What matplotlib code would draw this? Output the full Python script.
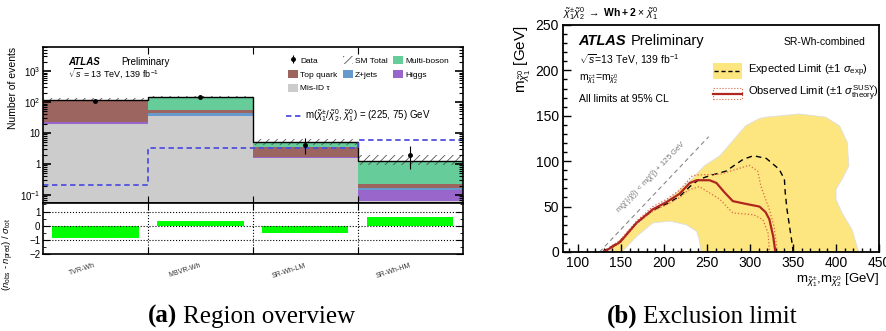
import numpy as np
import matplotlib
matplotlib.use('Agg')
import matplotlib.pyplot as plt
from matplotlib.patches import Patch, Rectangle, Polygon
from matplotlib.lines import Line2D
from matplotlib.ticker import MultipleLocator, FixedLocator

plt.rcParams['font.family'] = ['Liberation Sans', 'DejaVu Sans']
plt.rcParams['mathtext.fontset'] = 'custom'
plt.rcParams['mathtext.rm'] = 'Liberation Sans'
plt.rcParams['mathtext.it'] = 'Liberation Sans:italic'
plt.rcParams['mathtext.bf'] = 'Liberation Sans:bold'
plt.rcParams['hatch.linewidth'] = 0.6

# ---- left panel: region overview ----
regions = ['TVR-Wh', 'MBVR-Wh', 'SR-Wh-LM', 'SR-Wh-HM']
misid = [20, 35, 1.55, 0.065]
higgs = [2, 0.5, 0.1, 0.075]
zjets = [0.5, 9, 0.05, 0.03]
topq = [97, 11, 1.8, 0.05]
multib = [0.5, 88, 1.8, 1.05]
sm_lo = [110, 133, 4.2, 0.95]
sm_hi = [131, 155, 6.4, 1.97]
data = [108, 148, 4, 2]
data_dn = [10, 12, 1.9, 1.3]
data_up = [10, 12, 3.0, 1.8]
signal = [0.21, 3.2, 3.4, 5.8]
pull = [-0.88, 0.33, -0.55, 0.58]

# ---- right panel: exclusion limit ----
band_x = [135, 158, 185, 209, 232, 247, 265, 295, 311, 319, 357, 388, 404, 413, 415, 407,
          400, 400, 407, 419, 425, 427, 243, 241, 238, 226, 207, 187, 168, 151]
band_y = [0, 21, 45, 61, 80, 95, 106, 139, 147, 148.5, 152, 148.5, 139, 121, 95, 80,
          69, 58, 43, 24, 4, 0, 0, 13, 22.6, 30, 34, 32, 17, 0]
exp_x = [128, 148, 168, 187, 203, 218, 230, 241, 253, 272, 292, 304, 319, 334, 340, 341, 343, 346, 349.5, 350]
exp_y = [0, 11, 32, 46, 53, 61, 72, 80, 84, 89, 102, 106, 103, 91, 80, 65, 47, 28, 6, 0]
obs_x = [130, 149, 168, 187, 203, 218, 230, 238, 253, 261, 270, 280, 295, 311, 318, 322.5, 327, 329.5]
obs_y = [0, 11, 32, 47, 55, 64, 76, 79, 79, 76, 66, 56, 53, 50, 44, 36, 17, 0]
obsup_x = [130, 149, 168, 187, 203, 218, 233, 241, 265, 284, 299, 309, 312.6, 322.5, 328, 331, 332]
obsup_y = [1, 13, 34, 50, 58, 68, 84, 85, 85.5, 91, 95.5, 89, 72.6, 46.7, 28, 6, 0]
obsdn_x = [130, 149, 168, 187, 203, 218, 228, 241, 265, 280, 304, 315, 321, 322.5, 323]
obsdn_y = [0, 10, 31, 45, 52, 60, 68, 72, 58, 43, 41, 35.6, 20.7, 2, 0]
kin_x = [125, 252]
kin_y = [0, 127]

c_top = '#9c6560'
c_z = '#6699cc'
c_mb = '#66cc99'
c_h = '#9966cc'
c_mis = '#cccccc'
c_sig = '#5050e0'

fig = plt.figure(figsize=(8.86, 3.31), dpi=100)
ax = fig.add_axes([0.0485, 0.3867, 0.474, 0.471])
axr = fig.add_axes([0.0485, 0.2326, 0.474, 0.1541], sharex=ax)

edges = np.arange(len(regions) + 1)
x = np.arange(len(regions))
ymin = 0.055
bottom = np.full(len(regions), ymin)
handles = {}
for vals, col, lab in [(misid, c_mis, 'Mis-ID τ'), (higgs, c_h, 'Higgs'), (zjets, c_z, 'Z+jets'),
                       (topq, c_top, 'Top quark'), (multib, c_mb, 'Multi-boson')]:
    v = np.array(vals)
    if lab == 'Mis-ID τ':
        v = v - ymin
    ax.bar(x, v, width=1, bottom=bottom, align='edge', color=col, linewidth=0)
    handles[lab] = Patch(facecolor=col)
    bottom = bottom + v
total = bottom
ax.bar(x, np.array(sm_hi) - np.array(sm_lo), width=1, bottom=sm_lo, align='edge',
       fill=False, hatch='////', edgecolor='#555555', linewidth=0)
ax.stairs(total, edges, baseline=None, color='black', lw=1.0)
ax.stairs(signal, edges, baseline=None, color=c_sig, lw=1.3, ls=(0, (3, 2)))
eb = ax.errorbar(x + 0.5, data, yerr=[data_dn, data_up], fmt='o', color='black', ms=2.5, lw=0.8, capsize=0)

ax.set_yscale('log')
ax.set_ylim(ymin, 6000)
ax.set_xlim(0, len(regions))
ax.yaxis.set_major_locator(FixedLocator([0.1, 1, 10, 100, 1000]))
ax.set_yticklabels([r'$10^{-1}$', '1', '10', r'$10^{2}$', r'$10^{3}$'])
ax.tick_params(axis='y', which='major', direction='in', length=6, width=1.2, labelsize=7, right=True, pad=2)
ax.tick_params(axis='y', which='minor', direction='in', length=3, width=0.8, right=True)
ax.tick_params(axis='x', direction='in', length=5, top=True, labelbottom=False)
ax.set_xticks(edges[1:-1])
ax.set_ylabel('Number of events', fontsize=7.5, loc='top', labelpad=1)
for s in ax.spines.values():
    s.set_linewidth(1.2)

ax.text(0.06, 0.905, 'ATLAS', transform=ax.transAxes, fontsize=7, weight='bold', style='italic', va='center')
ax.text(0.187, 0.905, 'Preliminary', transform=ax.transAxes, fontsize=7, va='center')
ax.text(0.06, 0.835, r'$\sqrt{s}$ = 13 TeV, 139 fb$^{-1}$', transform=ax.transAxes, fontsize=6.5, va='center')

sm_handle = Patch(facecolor='white', hatch='////', edgecolor='#555555', linewidth=0)
leg_h = [eb, handles['Top quark'], handles['Mis-ID τ'], sm_handle, handles['Z+jets'],
         handles['Multi-boson'], handles['Higgs']]
leg_l = ['Data', 'Top quark', 'Mis-ID τ', 'SM Total', 'Z+jets', 'Multi-boson', 'Higgs']
leg = ax.legend(leg_h, leg_l, ncol=3, loc='upper left', bbox_to_anchor=(0.575, 0.965), frameon=False,
                fontsize=6, handlelength=1.2, handleheight=1.1, handletextpad=0.3, columnspacing=0.6,
                labelspacing=0.6, borderaxespad=0)
ax.add_artist(leg)
sig_h = Line2D([], [], color=c_sig, lw=1.3, ls=(0, (3, 2)))
ax.legend([sig_h], [r'm($\tilde{\chi}^{\pm}_{1}$/$\tilde{\chi}^{0}_{2}$, $\tilde{\chi}^{0}_{1}$) = (225, 75) GeV'],
          loc='upper left', bbox_to_anchor=(0.57, 0.64), frameon=False, fontsize=7,
          handlelength=1.6, handletextpad=0.3, borderaxespad=0)

# ratio
axr.bar(x + 0.5, pull, width=0.82, color='#00ff00', linewidth=0)
axr.set_ylim(-2, 1.6)
for yv in [-1, 0, 1]:
    axr.axhline(yv, color='black', ls=':', lw=0.8)
for xv in edges[1:-1]:
    axr.axvline(xv, color='black', ls=':', lw=0.8)
axr.yaxis.set_major_locator(MultipleLocator(1))
axr.yaxis.set_minor_locator(MultipleLocator(0.5))
axr.tick_params(axis='y', which='major', direction='in', length=5, labelsize=7, right=True, pad=2)
axr.tick_params(axis='y', which='minor', direction='in', length=2.5, right=True)
axr.tick_params(axis='x', direction='in', length=5, top=True)
axr.set_xticks(edges[1:-1])
axr.set_xticklabels([])
for i, r in enumerate(regions):
    axr.text(i + 0.5, -0.22, r, transform=axr.get_xaxis_transform(), fontsize=5, rotation=18,
             ha='right', va='center', rotation_mode='anchor', color='#333333')
axr.set_ylabel(r'$(n_{\rm obs}$ - $n_{\rm pred})$ / $\sigma_{\rm tot}$', fontsize=6.8, labelpad=2)
axr.yaxis.set_label_coords(-0.065, -0.02)
axr.yaxis.label.set_va('bottom')
for s in axr.spines.values():
    s.set_linewidth(1.2)

# ---- right panel ----
ax2 = fig.add_axes([0.6354, 0.2387, 0.3567, 0.686])
ax2.add_patch(Polygon(np.column_stack([band_x, band_y]), closed=True, facecolor='#fde680',
                      edgecolor='#dedede', lw=0.6))
ax2.plot(kin_x, kin_y, color='#888888', ls=(0, (4, 3)), lw=0.8)
ax2.plot(exp_x, exp_y, color='black', ls=(0, (4, 3)), lw=1.0)
ax2.plot(obsup_x, obsup_y, color='#dd6644', ls=':', lw=0.9)
ax2.plot(obsdn_x, obsdn_y, color='#dd6644', ls=':', lw=0.9)
ax2.plot(obs_x, obs_y, color='#b0261e', lw=1.6)
ax2.set_xlim(82.5, 450)
ax2.set_ylim(0, 250)
ax2.xaxis.set_major_locator(MultipleLocator(50))
ax2.xaxis.set_minor_locator(MultipleLocator(10))
ax2.yaxis.set_major_locator(MultipleLocator(50))
ax2.yaxis.set_minor_locator(MultipleLocator(10))
ax2.tick_params(which='major', direction='in', length=6, width=1, labelsize=10, pad=3)
ax2.tick_params(which='minor', direction='in', length=3, width=1)
for s in ax2.spines.values():
    s.set_linewidth(1.3)
ax2.set_ylabel(r'm$_{\tilde{\chi}^{0}_{1}}$ [GeV]', fontsize=11, loc='top', labelpad=2)
ax2.set_xlabel(r'm$_{\tilde{\chi}^{\pm}_{1}}$,m$_{\tilde{\chi}^{0}_{2}}$ [GeV]', fontsize=9.5, loc='right', labelpad=1)

ax2.text(186, 82, r'm($\tilde{\chi}^{\pm}_{1}$/$\tilde{\chi}^{0}_{2}$) < m($\tilde{\chi}^{0}_{1}$) + 125 GeV',
         fontsize=5.5, color='#777777', rotation=46, ha='center', va='center', rotation_mode='anchor')

ax2.text(0.05, 0.93, 'ATLAS', transform=ax2.transAxes, fontsize=10.5, weight='bold', style='italic', va='center')
ax2.text(0.215, 0.93, 'Preliminary', transform=ax2.transAxes, fontsize=10.5, va='center')
ax2.text(0.05, 0.848, r'$\sqrt{s}$=13 TeV, 139 fb$^{-1}$', transform=ax2.transAxes, fontsize=7.5, va='center')
ax2.text(0.05, 0.76, r'm$_{\tilde{\chi}^{\pm}_{1}}$=m$_{\tilde{\chi}^{0}_{2}}$', transform=ax2.transAxes, fontsize=7.5, va='center')
ax2.text(0.05, 0.675, 'All limits at 95% CL', transform=ax2.transAxes, fontsize=7.5, va='center')
ax2.text(0.958, 0.926, 'SR-Wh-combined', transform=ax2.transAxes, fontsize=7.5, ha='right', va='center')

ax2.add_patch(Rectangle((0.475, 0.762), 0.091, 0.071, transform=ax2.transAxes, facecolor='#fde680', edgecolor='none'))
ax2.plot([0.478, 0.563], [0.797, 0.797], transform=ax2.transAxes, color='black', ls=(0, (3, 2)), lw=1.0)
ax2.text(0.585, 0.797, r'Expected Limit ($\pm$1 $\sigma_{\rm exp}$)', transform=ax2.transAxes, fontsize=8, va='center')
ax2.add_patch(Rectangle((0.475, 0.672), 0.091, 0.05, transform=ax2.transAxes, facecolor='none',
                        edgecolor='#dd6644', ls=':', lw=0.8))
ax2.plot([0.475, 0.566], [0.697, 0.697], transform=ax2.transAxes, color='#b0261e', lw=1.6)
ax2.text(0.585, 0.697, r'Observed Limit ($\pm$1 $\sigma^{\rm SUSY}_{\rm theory}$)', transform=ax2.transAxes, fontsize=8, va='center')

ax2.text(0.0, 1.015, r'$\tilde{\chi}^{\pm}_{1}\tilde{\chi}^{0}_{2}$ $\rightarrow$ $\mathbf{Wh + 2}$ $\times$ $\tilde{\chi}^{0}_{1}$',
         transform=ax2.transAxes, fontsize=7.5, va='bottom')

# captions
cap_y = 1 - 323 / 331
fig.text(177 / 886, cap_y, '(a)', fontsize=18, weight='bold', family='Liberation Serif', ha='right', va='baseline')
fig.text(183 / 886, cap_y, 'Region overview', fontsize=18, family='Liberation Serif', ha='left', va='baseline')
fig.text(637 / 886, cap_y, '(b)', fontsize=18, weight='bold', family='Liberation Serif', ha='right', va='baseline')
fig.text(643 / 886, cap_y, 'Exclusion limit', fontsize=18, family='Liberation Serif', ha='left', va='baseline')

fig.savefig('out.png', dpi=100)
